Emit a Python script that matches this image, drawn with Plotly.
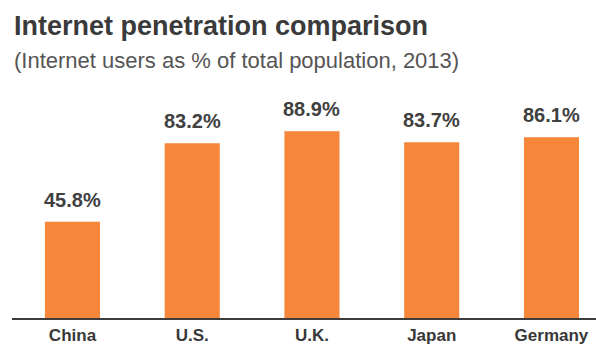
import plotly.graph_objects as go

countries = ["China", "U.S.", "U.K.", "Japan", "Germany"]
penetration = [45.8, 83.2, 88.9, 83.7, 86.1]

BAR_COLOR = "#F5863A"
FONT = "Liberation Sans, Arial, sans-serif"

PLOT_TOP, PLOT_BOTTOM = 80, 318
PLOT_H = PLOT_BOTTOM - PLOT_TOP

fig = go.Figure(
    go.Bar(
        x=countries,
        y=penetration,
        marker=dict(color=BAR_COLOR, line=dict(width=0)),
        width=0.46,
        hoverinfo="skip",
    )
)

# value labels above each bar
for c, v in zip(countries, penetration):
    fig.add_annotation(
        x=c, y=v, text=f"<b>{v}%</b>", showarrow=False,
        yanchor="bottom", yshift=9,
        font=dict(family=FONT, size=20, color="#404040"),
    )

fig.add_annotation(
    xref="paper", yref="paper", x=0, y=(PLOT_BOTTOM - 26) / PLOT_H,
    xanchor="left", yanchor="middle", showarrow=False,
    text="<b>Internet penetration comparison</b>",
    font=dict(family=FONT, size=27, color="#3a3a3a"),
)
fig.add_annotation(
    xref="paper", yref="paper", x=0, y=(PLOT_BOTTOM - 60) / PLOT_H,
    xanchor="left", yanchor="middle", showarrow=False,
    text="(Internet users as % of total population, 2013)",
    font=dict(family=FONT, size=22, color="#555555"),
)

fig.update_layout(
    width=596, height=346,
    margin=dict(l=12, r=0, t=PLOT_TOP, b=346 - PLOT_BOTTOM),
    paper_bgcolor="white", plot_bgcolor="white",
    showlegend=False,
    xaxis=dict(
        range=[-0.505, 4.372], showgrid=False, zeroline=False,
        showline=True, linecolor="#3c3c3c", linewidth=2,
        ticks="", automargin=False, ticklabelstandoff=1,
        tickfont=dict(family=FONT, size=17, color="#383838"),
        tickprefix="<b>", ticksuffix="</b>",
    ),
    yaxis=dict(
        range=[0, PLOT_H / 2.1], visible=False, automargin=False,
    ),
)

fig.write_html("out.html")
